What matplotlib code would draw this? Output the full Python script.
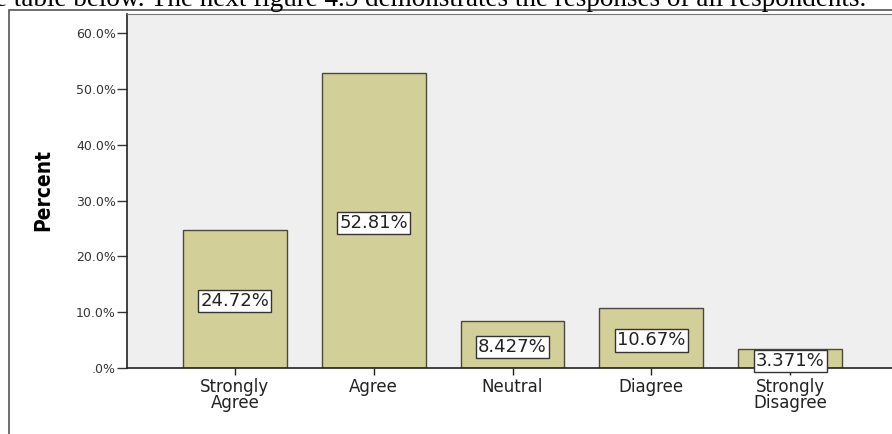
import matplotlib
matplotlib.use('Agg')
from matplotlib import pyplot as plt
from matplotlib.patches import Rectangle

# 回答の分布（パーセント）
categories = ['Strongly\nAgree', 'Agree', 'Neutral', 'Diagree', 'Strongly\nDisagree']
percents = [24.72, 52.81, 8.427, 10.67, 3.371]
value_labels = ['24.72%', '52.81%', '8.427%', '10.67%', '3.371%']
yticks = [0, 10, 20, 30, 40, 50, 60]

W, H = 892, 434


def pct_label(v):
    s = '%.1f%%' % v
    return s[1:] if s.startswith('0') else s


fig = plt.figure(figsize=(W / 100, H / 100), dpi=100)
fig.patch.set_facecolor('white')

# 本文の一行（上端で切れている）
fig.text(-0.006, 1 - 6 / H,
         'e table below. The next figure 4.5 demonstrates the responses of all respondents.',
         family='Liberation Serif', fontsize=19.5, va='baseline', ha='left', color='black')

# 外枠
fig.patches.append(Rectangle((9 / W, -0.1), 1.2, 1.1 - 10 / H,
                             transform=fig.transFigure, fill=False,
                             edgecolor='#555555', lw=1.2))

left, right, top, bottom = 127, 950, 14, 368
ax = fig.add_axes([left / W, 1 - bottom / H, (right - left) / W, (bottom - top) / H])
ax.set_facecolor('#efefef')

bar_w = 104 / 139
x = list(range(len(categories)))
ax.bar(x, percents, width=bar_w, color='#d3cf98', edgecolor='#4a4a3a', linewidth=1.0, zorder=2)

for xi, v, lab in zip(x, percents, value_labels):
    ax.text(xi, v / 2 - 0.4, lab, ha='center', va='center', fontsize=13,
            family='DejaVu Sans', color='#222222', zorder=3,
            bbox=dict(boxstyle='square,pad=0.12', fc='white', ec='#333333', lw=1.0))

ax.set_xlim(-(235 - left) / 139, 4 + (right - 790) / 139)
ax.set_ylim(0, (bottom - top) / 55.8 * 10)

ax.set_yticks(yticks)
ax.set_yticklabels([pct_label(v) for v in yticks], fontsize=9, color='#333333')
ax.set_xticks(x)
ax.set_xticklabels(categories, fontsize=12, color='#222222', linespacing=0.85)
ax.tick_params(axis='y', length=7, width=1, pad=1, colors='#333333')
ax.tick_params(axis='x', length=5, width=1, pad=2, colors='#222222')

for side in ['left', 'bottom']:
    ax.spines[side].set_color('#222222')
    ax.spines[side].set_linewidth(1.2)
ax.spines['top'].set_color('#777777')
ax.spines['right'].set_visible(False)

fig.text(43 / W, 1 - 190 / H, 'Percent', rotation=90, ha='center', va='center',
         family='DejaVu Sans', fontstretch='condensed', fontweight='bold',
         fontsize=15, color='black')

fig.savefig('out.png', dpi=100)
